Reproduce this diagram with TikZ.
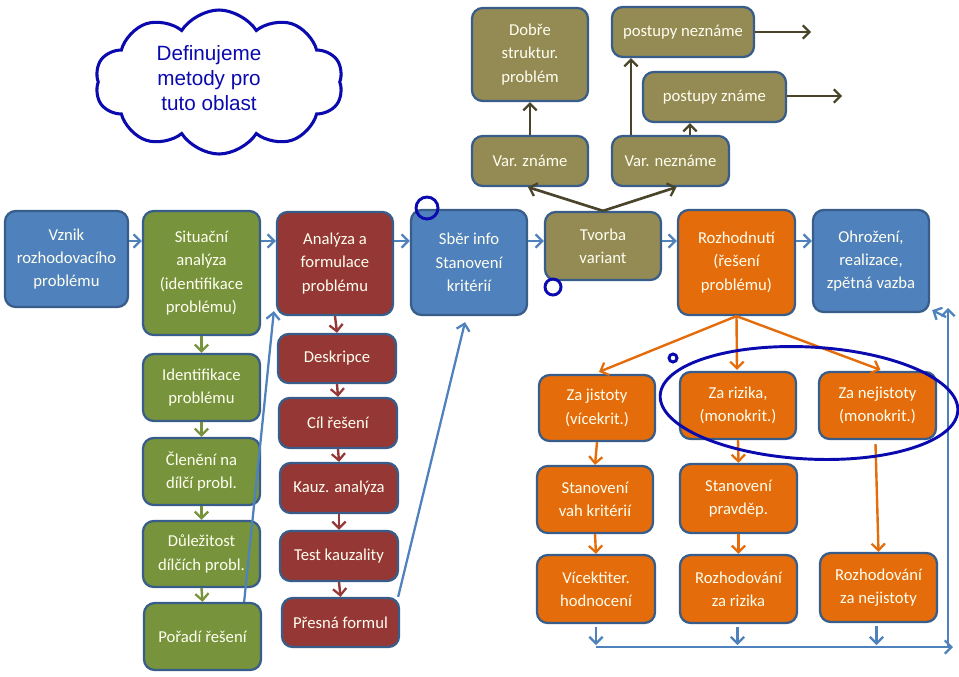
\documentclass[tikz,border=0pt]{standalone}
\usepackage{fontspec}
\usetikzlibrary{arrows.meta,shapes.symbols,calc}
\newfontfamily\carl{Carlito}
\newfontfamily\arialf{Liberation Sans}
\definecolor{cblue}{RGB}{79,129,189}
\definecolor{cgreen}{RGB}{119,147,60}
\definecolor{cred}{RGB}{149,55,53}
\definecolor{colive}{RGB}{148,138,84}
\definecolor{corange}{RGB}{228,108,10}
\definecolor{bord}{RGB}{56,93,138}
\definecolor{darkol}{RGB}{74,69,42}
\definecolor{mark}{RGB}{10,10,175}
\definecolor{btext}{RGB}{255,255,240}
\newcommand\mybox[7]{%
  \pgfmathsetmacro\cx{(#3+#4)/2}\pgfmathsetmacro\cy{(#5+#6)/2}%
  \pgfmathsetmacro\ww{(#4-#3)*0.75}\pgfmathsetmacro\hh{(#6-#5)*0.75}%
  \node[#2, minimum width=\ww pt, minimum height=\hh pt] (#1) at (\cx,\cy) {#7};}
\tikzset{
  base/.style={draw=bord, line width=1.7pt, rounded corners=8pt, text=btext, align=center,
    font=\carl\fontsize{12.5}{17.5}\selectfont, inner sep=0pt},
  bl/.style={base, fill=cblue},
  gr/.style={base, fill=cgreen},
  rd/.style={base, fill=cred},
  ol/.style={base, fill=colive},
  orb/.style={base, fill=corange},
  tip/.style={-{Straight Barb[length=5pt,width=10pt,line width=1.7pt]}},
  barr/.style={tip, draw=cblue, line width=2.2pt},
  bthin/.style={tip, draw=cblue, line width=1.7pt},
  garr/.style={tip, draw=cgreen, line width=1.8pt},
  rarr/.style={tip, draw=cred, line width=1.8pt},
  oarr/.style={tip, draw=darkol, line width=2pt},
  orarr/.style={tip, draw=corange, line width=1.8pt},
  mk/.style={draw=mark, line width=2.2pt},
}
\begin{document}
\begin{tikzpicture}[x=0.75pt,y=-0.75pt]
\useasboundingbox (0,0) rectangle (959,676);
% cloud
\node[cloud, cloud puffs=10, cloud puff arc=115, aspect=1.7, draw=mark, line width=2.3pt, fill=white,
  minimum width=186pt, minimum height=108pt, inner sep=0pt] (cloud) at (219,82) {};
\node[align=center, text=mark, font=\arialf\fontsize{15.5}{19}\selectfont] (cloudtext) at (209,78) {Definujeme\\metody pro\\tuto oblast};
% main row
\mybox{vznik}{bl}{5}{128}{211}{307}{Vznik\\rozhodovacího\\problému}
\mybox{sit}{gr}{143}{260}{211}{335}{Situační\\analýza\\(identifikace\\problému)}
\mybox{ana}{rd}{277}{393}{212}{315}{Analýza a\\formulace\\problému}
\mybox{sber}{bl}{411}{527}{210}{315}{Sběr info\\Stanovení\\kritérií}
\mybox{tvorba}{ol}{545}{661}{212}{280}{Tvorba\\variant}
\mybox{rozh}{orb}{678}{795}{210}{315}{Rozhodnutí\\(řešení\\problému)}
\mybox{ohro}{bl}{813}{929}{210}{312}{Ohrožení,\\realizace,\\zpětná vazba}
% green column
\mybox{ident}{gr}{143}{260}{354}{421}{Identifikace\\problému}
\mybox{clen}{gr}{143}{260}{438}{505}{Členění na\\dílčí probl.}
\mybox{dul}{gr}{143}{260}{521}{587}{Důležitost\\dílčích probl.}
\mybox{por}{gr}{144}{261}{603}{670}{Pořadí řešení}
% red column
\mybox{desk}{rd}{278}{396}{334}{383}{Deskripce}
\mybox{cil}{rd}{279}{397}{398}{448}{Cíl řešení}
\mybox{kauz}{rd}{280}{398}{463}{513}{Kauz. analýza}
\mybox{test}{rd}{280}{398}{531}{581}{Test kauzality}
\mybox{pres}{rd}{282}{399}{598}{647}{Přesná formul}
% olive top
\mybox{dobre}{ol}{472}{588}{8}{101}{Dobře\\struktur.\\problém}
\mybox{varz}{ol}{472}{588}{136}{186}{Var. známe}
\mybox{varn}{ol}{612}{729}{136}{186}{Var. neznáme}
\mybox{postn}{ol}{612}{754}{7}{57}{postupy neznáme}
\mybox{postz}{ol}{643}{786}{72}{122}{postupy známe}
% orange lower
\mybox{zaj}{orb}{539}{655}{375}{441}{Za jistoty\\(vícekrit.)}
\mybox{zar}{orb}{680}{796}{372}{439}{Za rizika,\\(monokrit.)}
\mybox{zan}{orb}{819}{936}{372}{439}{Za nejistoty\\(monokrit.)}
\mybox{stv}{orb}{537}{653}{466}{533}{Stanovení\\vah kritérií}
\mybox{stp}{orb}{680}{797}{464}{533}{Stanovení\\pravděp.}
\mybox{vic}{orb}{537}{655}{555}{623}{Vícektiter.\\hodnocení}
\mybox{rr}{orb}{680}{797}{555}{623}{Rozhodování\\za rizika}
\mybox{rn}{orb}{820}{937}{553}{622}{Rozhodování\\za nejistoty}
% main row arrows
\coordinate (ry) at (0,241);
\draw[barr] (vznik.east|-ry) -- (sit.west|-ry);
\draw[barr] (sit.east|-ry) -- (ana.west|-ry);
\draw[barr] (ana.east|-ry) -- (sber.west|-ry);
\draw[barr] (sber.east|-ry) -- (tvorba.west|-ry);
\draw[barr] (tvorba.east|-ry) -- (rozh.west|-ry);
\draw[barr] (rozh.east|-ry) -- (ohro.west|-ry);
% green arrows
\draw[garr] (sit.south) -- (ident.north);
\draw[garr] (ident.south) -- (clen.north);
\draw[garr] (clen.south) -- (dul.north);
\draw[garr] (dul.south) -- (por.north);
% red arrows
\draw[rarr] (ana.south) -- (desk.north);
\draw[rarr] (desk.south) -- (cil.north);
\draw[rarr] (cil.south) -- (kauz.north);
\draw[rarr] (kauz.south) -- (test.north);
\draw[rarr] (test.south) -- (pres.north);
% blue long lines
\draw[bthin] ($(por.north east)+(-18,0)$) -- ($(ana.south west)+(-2,-5)$);
\draw[bthin] ($(pres.north east)+(-2,0)$) -- ($(sber.south)+(-4,6)$);
% olive arrows
\draw[oarr] (tvorba.north) -- ($(varz.south)+(-2,0)$);
\draw[oarr] (tvorba.north) -- ($(varn.south)+(6,0)$);
\draw[oarr] (varz.north) -- (dobre.south);
\draw[oarr] (varn.north-|631,0) -- (postn.south-|631,0);
\draw[oarr] (varn.north-|690,0) -- (postz.south-|690,0);
\coordinate (pn) at (811,32);
\coordinate (pz) at (842,96);
\draw[oarr] (postn.east|-pn) -- (pn);
\draw[oarr] (postz.east|-pz) -- (pz);
% orange arrows
\draw[orarr] (rozh.south) -- ($(zaj.north)+(2,-2)$);
\draw[orarr] (rozh.south) -- ($(zar.north)+(-1,-1)$);
\draw[orarr] (rozh.south) -- ($(zan.north)+(3,-1)$);
\draw[orarr] (zaj.south) -- (stv.north);
\draw[orarr] (stv.south) -- (vic.north);
\draw[orarr] (zar.south) -- (stp.north);
\draw[orarr] (stp.south) -- (rr.north);
\draw[orarr] ($(zan.south)+(-2,4)$) -- (rn.north);
% bottom feedback
\coordinate (hl) at (596,647);
\coordinate (hr) at (953,647);
\coordinate (vb) at (948,647);
\coordinate (vt) at (948,308);
\coordinate (vc) at (946,317);
\draw[bthin] ($(vic.south)+(0,3)$) -- ($(vic.south)+(0,21)$);
\draw[bthin] ($(rr.south)+(-1,3)$) -- ($(rr.south)+(-1,21)$);
\draw[bthin] ($(rn.south)+(-2,3)$) -- ($(rn.south)+(-2,22)$);
\draw[bthin] (hl) -- (hr);
\draw[bthin] (vb) -- (vt);
\draw[bthin] (vc) -- ($(ohro.south east)+(2,-3)$);
% markings
\draw[mk, rotate around={-3:(809,403)}] (809,403) ellipse [x radius=149, y radius=56];
\draw[mk] (427,208) circle [radius=11];
\draw[mk] (553,287) circle [radius=8];
\draw[mk] (673,358) circle [radius=4];
\end{tikzpicture}
\end{document}
